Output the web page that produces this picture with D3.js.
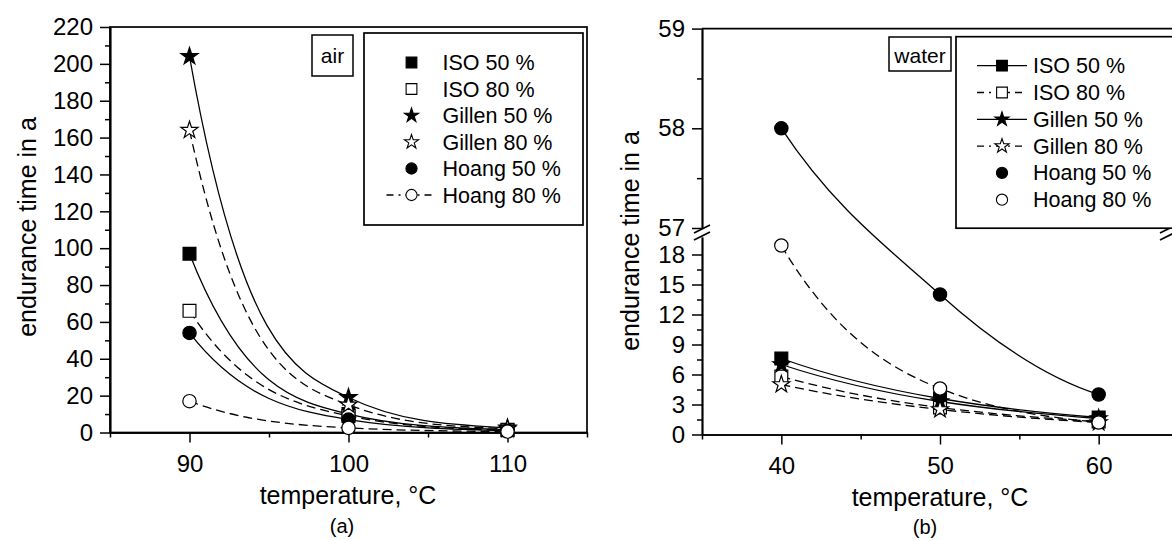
<!DOCTYPE html>
<meta charset="utf-8">
<head>
  <title>Endurance time - air and water</title>
</head>

<style>
body {
  margin: 0;
  background: #fff;
}
svg text {
  font-family: "Liberation Sans", Arial, Helvetica, sans-serif;
  fill: #000;
}
</style>

<body>
  <div id="content">
    <svg width="1172" height="540"></svg>
  </div>

  <script src="https://cdnjs.cloudflare.com/ajax/libs/d3/7.8.5/d3.min.js"></script>

  <script>
// series names, in legend order
var seriesNames = ['ISO 50 %', 'ISO 80 %', 'Gillen 50 %', 'Gillen 80 %', 'Hoang 50 %', 'Hoang 80 %'];

// (a) air
var airTemps = [90, 100, 110];
var airISO50 = [97, 10, 1.5];
var airISO80 = [66, 9, 1.2];
var airGillen50 = [204, 19, 2.5];
var airGillen80 = [164, 15, 2];
var airHoang50 = [54, 7, 1];
var airHoang80 = [17, 2.5, 0.5];
var airYTicks = [0, 20, 40, 60, 80, 100, 120, 140, 160, 180, 200, 220];
var airXTicks = [90, 100, 110];

// (b) water
var waterTemps = [40, 50, 60];
var waterISO50 = [7.6, 3.6, 1.7];
var waterISO80 = [5.8, 2.7, 1.3];
var waterGillen50 = [7.0, 3.3, 1.6];
var waterGillen80 = [5.0, 2.5, 1.2];
var waterHoang50 = [58, 14, 4.0];
var waterHoang80 = [18.9, 4.6, 1.2];
var waterYTicksLow = [0, 3, 6, 9, 12, 15, 18];
var waterYTicksHigh = [57, 58, 59];
var waterXTicks = [40, 50, 60];

// marker style per series (same order as seriesNames)
var styles = [
  {sym: d3.symbolSquare, size: 165, fill: '#000', dash: null},
  {sym: d3.symbolSquare, size: 165, fill: '#fff', dash: '9,5'},
  {sym: d3.symbolStar, size: 90, fill: '#000', dash: null},
  {sym: d3.symbolStar, size: 90, fill: '#fff', dash: '9,5'},
  {sym: d3.symbolCircle, size: 140, fill: '#000', dash: null},
  {sym: d3.symbolCircle, size: 140, fill: '#fff', dash: '9,5'}
];

var fmt = d3.format('d');
var svg = d3.select('svg');

// curve that bends like a decay towards a baseline (pixel y of value 0)
function curveDecay(base) {
  return function(context) {
    var pts = [];
    return {
      areaStart: function() {}, areaEnd: function() {},
      lineStart: function() { pts = []; },
      point: function(x, y) { pts.push([+x, +y]); },
      lineEnd: function() {
        var n = pts.length;
        if (!n) return;
        context.moveTo(pts[0][0], pts[0][1]);
        var h = pts.map(function(p) { return Math.max(base - p[1], 0.5); });
        var k = [];
        for (var i = 0; i < n - 1; i++) k.push(Math.log(h[i + 1] / h[i]) / (pts[i + 1][0] - pts[i][0]));
        var kt = pts.map(function(p, i) {
          if (i === 0) return k[0];
          if (i === n - 1) return k[n - 2];
          return (k[i - 1] + k[i]) / 2;
        });
        for (var j = 0; j < n - 1; j++) {
          var dx = (pts[j + 1][0] - pts[j][0]) / 3;
          context.bezierCurveTo(
            pts[j][0] + dx, pts[j][1] - h[j] * kt[j] * dx,
            pts[j + 1][0] - dx, pts[j + 1][1] + h[j + 1] * kt[j + 1] * dx,
            pts[j + 1][0], pts[j + 1][1]);
        }
      }
    };
  };
}

function styleAxis(g, fontSize) {
  g.attr('font-size', null).attr('font-family', null);
  g.selectAll('path.domain').attr('stroke-width', 1.7);
  g.selectAll('.tick line').attr('stroke-width', 1.5);
  g.selectAll('.tick text').style('font-size', fontSize + 'px');
}

function drawSeries(g, temps, values, x, y, base) {
  var line = d3.line()
    .x(function(d, i) { return x(temps[i]); })
    .y(function(d) { return y(d); })
    .curve(curveDecay(base));

  values.forEach(function(vals, s) {
    g.append('path')
      .attr('d', line(vals))
      .attr('fill', 'none')
      .attr('stroke', '#000')
      .attr('stroke-width', 1.3)
      .attr('stroke-dasharray', styles[s].dash);
  });

  values.forEach(function(vals, s) {
    g.selectAll(null)
      .data(vals)
      .enter()
      .append('path')
      .attr('transform', function(d, i) { return 'translate(' + x(temps[i]) + ',' + y(d) + ')'; })
      .attr('d', d3.symbol().type(styles[s].sym).size(styles[s].size))
      .attr('fill', styles[s].fill)
      .attr('stroke', '#000')
      .attr('stroke-width', 1.2);
  });
}

function drawLegend(g, x0, y0, step, withLine) {
  seriesNames.forEach(function(name, s) {
    var yy = y0 + s * step;
    if (withLine[s]) {
      g.append('line')
        .attr('x1', x0 - 25).attr('x2', x0 + 25)
        .attr('y1', yy).attr('y2', yy)
        .attr('stroke', '#000')
        .attr('stroke-width', 1.3)
        .attr('stroke-dasharray', styles[s].dash ? '7,5,2,5' : null);
    }
    g.append('path')
      .attr('transform', 'translate(' + x0 + ',' + yy + ')')
      .attr('d', d3.symbol().type(styles[s].sym).size(styles[s].size * 0.7))
      .attr('fill', styles[s].fill)
      .attr('stroke', '#000')
      .attr('stroke-width', 1.1);
    g.append('text')
      .attr('x', x0 + 31)
      .attr('y', yy + 7.5)
      .style('font-size', '21.5px')
      .text(name);
  });
}

function labelBox(g, x, y, w, h, txt, ty) {
  g.append('rect')
    .attr('x', x).attr('y', y).attr('width', w).attr('height', h)
    .attr('fill', '#fff').attr('stroke', '#000').attr('stroke-width', 1.5);
  g.append('text')
    .attr('x', x + w / 2).attr('y', ty)
    .attr('text-anchor', 'middle')
    .style('font-size', '21px')
    .text(txt);
}

// ---------- (a) air ----------
var ga = svg.append('g');
var xA = d3.scaleLinear().domain([85, 115]).range([110, 587]);
var yA = d3.scaleLinear().domain([0, 220]).range([432.5, 27]);

// frame
ga.append('rect')
  .attr('x', xA(85)).attr('y', yA(220))
  .attr('width', xA(115) - xA(85)).attr('height', yA(0) - yA(220))
  .attr('fill', 'none').attr('stroke', '#000').attr('stroke-width', 1.7);

ga.append('g')
  .attr('transform', 'translate(' + xA(85) + ',0)')
  .call(d3.axisLeft(yA).tickValues(d3.range(10, 220, 20)).tickSize(5).tickSizeOuter(0).tickFormat(''))
  .call(styleAxis, 24);
ga.append('g')
  .attr('transform', 'translate(' + xA(85) + ',0)')
  .call(d3.axisLeft(yA).tickValues(airYTicks).tickSize(10).tickPadding(7).tickSizeOuter(0).tickFormat(fmt))
  .call(styleAxis, 24);
ga.append('g')
  .attr('transform', 'translate(0,' + yA(0) + ')')
  .call(d3.axisBottom(xA).tickValues([85, 95, 105, 115]).tickSize(5).tickSizeOuter(0).tickFormat(''))
  .call(styleAxis, 24);
ga.append('g')
  .attr('transform', 'translate(0,' + yA(0) + ')')
  .call(d3.axisBottom(xA).tickValues(airXTicks).tickSize(10).tickPadding(12).tickSizeOuter(0).tickFormat(fmt))
  .call(styleAxis, 24);

drawSeries(ga, airTemps,
  [airISO50, airISO80, airGillen50, airGillen80, airHoang50, airHoang80],
  xA, yA, yA(0));

ga.append('rect')
  .attr('x', 364).attr('y', 33).attr('width', 219).attr('height', 192)
  .attr('fill', '#fff').attr('stroke', '#000').attr('stroke-width', 1.7);
drawLegend(ga, 411.5, 62.5, 26.5, [false, false, false, false, false, true]);
labelBox(ga, 312, 35, 41, 41, 'air', 63);

ga.append('text')
  .attr('transform', 'translate(36,227) rotate(-90)')
  .attr('text-anchor', 'middle')
  .style('font-size', '25px')
  .text('endurance time in a');
ga.append('text')
  .attr('x', 348).attr('y', 504)
  .attr('text-anchor', 'middle')
  .style('font-size', '25px')
  .text('temperature, °C');
ga.append('text')
  .attr('x', 342).attr('y', 533)
  .attr('text-anchor', 'middle')
  .style('font-size', '20px')
  .text('(a)');

// ---------- (b) water, broken y axis ----------
var gb = svg.append('g');
var xB = d3.scaleLinear().domain([35, 65]).range([702, 1178]);
var yLow = d3.scaleLinear().domain([0, 19.75]).range([434.5, 237]);
var yHigh = d3.scaleLinear().domain([57, 59]).range([228, 28.6]);
function yB(v) { return v >= 57 ? yHigh(v) : yLow(v); }

// top frame line
gb.append('line')
  .attr('x1', xB(35)).attr('x2', 1172)
  .attr('y1', yHigh(59)).attr('y2', yHigh(59))
  .attr('stroke', '#000').attr('stroke-width', 1.7);

gb.append('g')
  .attr('transform', 'translate(' + xB(35) + ',0)')
  .call(d3.axisLeft(yLow).tickValues([1.5, 4.5, 7.5, 10.5, 13.5, 16.5]).tickSize(5).tickSizeOuter(0).tickFormat(''))
  .call(styleAxis, 24);
gb.append('g')
  .attr('transform', 'translate(' + xB(35) + ',0)')
  .call(d3.axisLeft(yLow).tickValues(waterYTicksLow).tickSize(10).tickPadding(7).tickSizeOuter(0).tickFormat(fmt))
  .call(styleAxis, 24);
gb.append('g')
  .attr('transform', 'translate(' + xB(35) + ',0)')
  .call(d3.axisLeft(yHigh).tickValues([57.5, 58.5]).tickSize(5).tickSizeOuter(0).tickFormat(''))
  .call(styleAxis, 24);
gb.append('g')
  .attr('transform', 'translate(' + xB(35) + ',0)')
  .call(d3.axisLeft(yHigh).tickValues(waterYTicksHigh).tickSize(10).tickPadding(7).tickSizeOuter(0).tickFormat(fmt))
  .call(styleAxis, 24);
gb.append('g')
  .attr('transform', 'translate(0,' + yLow(0) + ')')
  .call(d3.axisBottom(xB).tickValues([35, 45, 55, 65]).tickSize(5).tickSizeOuter(0).tickFormat(''))
  .call(styleAxis, 24);
gb.append('g')
  .attr('transform', 'translate(0,' + yLow(0) + ')')
  .call(d3.axisBottom(xB).tickValues(waterXTicks).tickSize(10).tickPadding(12).tickSizeOuter(0).tickFormat(fmt))
  .call(styleAxis, 24);

// break marks
[xB(35), 1168].forEach(function(bx) {
  [yHigh(57) + 1, yLow(19.75) - 1].forEach(function(by) {
    gb.append('line')
      .attr('x1', bx - 8).attr('y1', by + 4)
      .attr('x2', bx + 8).attr('y2', by - 4)
      .attr('stroke', '#000').attr('stroke-width', 1.6);
  });
});

drawSeries(gb, waterTemps,
  [waterISO50, waterISO80, waterGillen50, waterGillen80, waterHoang50, waterHoang80],
  xB, yB, yLow(0));

gb.append('rect')
  .attr('x', 956).attr('y', 36.7).attr('width', 240).attr('height', 191.5)
  .attr('fill', '#fff').attr('stroke', '#000').attr('stroke-width', 1.7);
drawLegend(gb, 1002, 65.7, 26.8, [true, true, true, true, false, false]);
labelBox(gb, 889, 37, 62, 34, 'water', 62.5);

gb.append('text')
  .attr('transform', 'translate(639,241) rotate(-90)')
  .attr('text-anchor', 'middle')
  .style('font-size', '25px')
  .text('endurance time in a');
gb.append('text')
  .attr('x', 940).attr('y', 506)
  .attr('text-anchor', 'middle')
  .style('font-size', '25px')
  .text('temperature, °C');
gb.append('text')
  .attr('x', 925).attr('y', 534)
  .attr('text-anchor', 'middle')
  .style('font-size', '20px')
  .text('(b)');
  </script>
</body>
</html>
